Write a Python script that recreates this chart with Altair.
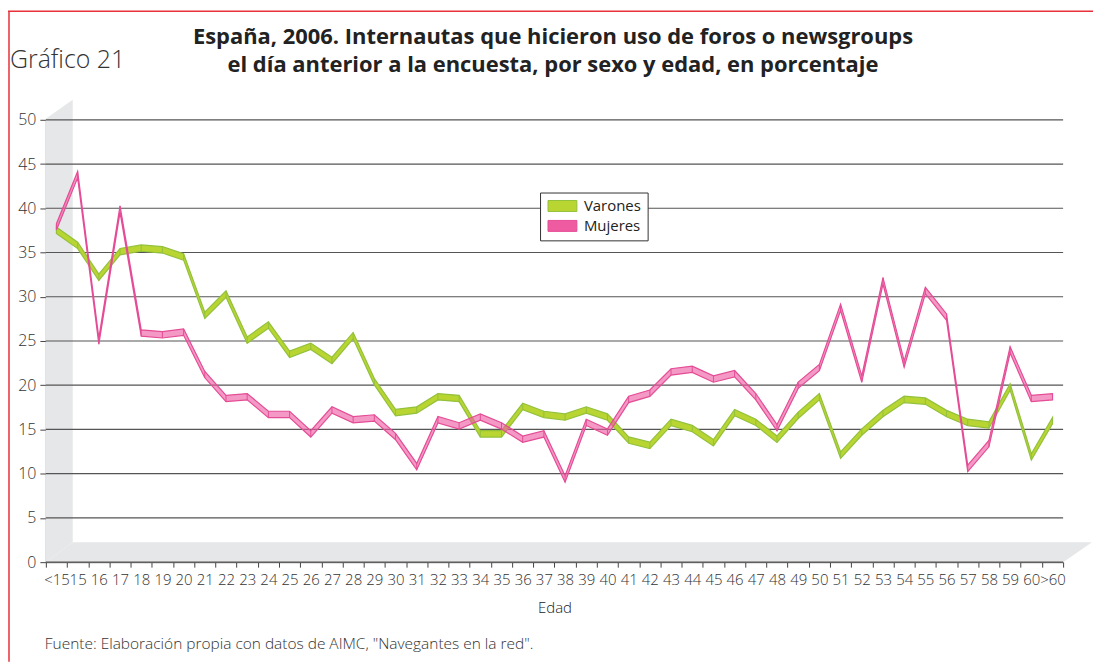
import altair as alt
import pandas as pd

edades = ["<15", "15", "16", "17", "18", "19", "20", "21", "22", "23", "24", "25",
          "26", "27", "28", "29", "30", "31", "32", "33", "34", "35", "36", "37",
          "38", "39", "40", "41", "42", "43", "44", "45", "46", "47", "48", "49",
          "50", "51", "52", "53", "54", "55", "56", "57", "58", "59", "60", ">60"]

varones = [37.5, 35.8, 32.2, 35.1, 35.5, 35.3, 34.5, 27.9, 30.3, 25.1, 26.8, 23.5,
           24.4, 22.8, 25.6, 20.4, 16.9, 17.2, 18.7, 18.5, 14.5, 14.5, 17.6, 16.7,
           16.4, 17.2, 16.4, 13.8, 13.2, 15.8, 15.1, 13.5, 16.9, 15.8, 13.9, 16.6,
           18.7, 12.1, 14.7, 16.8, 18.4, 18.2, 16.8, 15.8, 15.5, 19.8, 11.9, 16.0]

mujeres = [37.9, 43.8, 25.0, 39.9, 25.9, 25.7, 26.0, 21.2, 18.5, 18.7, 16.7, 16.7,
           14.5, 17.2, 16.1, 16.3, 14.2, 10.8, 16.1, 15.4, 16.4, 15.4, 13.9, 14.5,
           9.4, 15.8, 14.7, 18.4, 19.1, 21.5, 21.8, 20.7, 21.3, 18.7, 15.2, 20.0,
           22.0, 28.8, 20.7, 31.8, 22.4, 30.7, 27.7, 10.6, 13.4, 24.0, 18.5, 18.7]

series = ["Varones", "Mujeres"]
y_ticks = [0, 5, 10, 15, 20, 25, 30, 35, 40, 45, 50]

titulo = ["España, 2006. Internautas que hicieron uso de foros o newsgroups",
          "el día anterior a la encuesta, por sexo y edad, en porcentaje"]
grafico = "Gráfico 21"
fuente = 'Fuente: Elaboración propia con datos de AIMC, "Navegantes en la red".'

rows = []
for s, vals in zip(series, [varones, mujeres]):
    for e, v in zip(edades, vals):
        rows.append({"edad": e, "sexo": s, "valor": v})
df = pd.DataFrame(rows)

W, H = 1021, 444
FONT = "Open Sans"

x_axis = alt.Axis(title="Edad", labelAngle=0, labelFont=FONT, labelFontSize=15,
                  labelFontWeight=300, labelColor="#333", labelOverlap=False,
                  labelPadding=5, tickBand="extent", tickSize=5, tickColor="#444",
                  domainColor="#444", titleFont=FONT, titleFontSize=15,
                  titleFontWeight=300, titleColor="#222", titlePadding=14, grid=False)
y_axis = alt.Axis(title=None, values=y_ticks, labelFont=FONT, labelFontSize=16,
                  labelFontWeight=300, labelColor="#333", tickSize=6, tickColor="#444",
                  domainColor="#444", labelPadding=4, grid=False)

x_enc = alt.X("edad:N", sort=edades,
              scale=alt.Scale(type="band", paddingInner=0, paddingOuter=0),
              axis=x_axis)
y_scale = alt.Scale(domain=[0, 50], nice=False, zero=True)

one = pd.DataFrame({"k": [0]})

wall = alt.Chart(one).mark_point(
    shape="M0,444L0,-1L27,-20L27,424Z", size=4, filled=True,
    fill="#e6e7e8", strokeWidth=0, opacity=1
).encode(x=alt.value(0), y=alt.value(0))

floor = alt.Chart(one).mark_point(
    shape="M0,444L1021,444L1050,424L27,424Z", size=4, filled=True,
    fill="#e6e7e8", strokeWidth=0, opacity=1
).encode(x=alt.value(0), y=alt.value(0))

grid = alt.Chart(pd.DataFrame({"v": y_ticks})).mark_rule(
    color="#555", strokeWidth=1.2
).encode(y=alt.Y("v:Q", scale=y_scale, axis=y_axis), x=alt.value(0), x2=alt.value(W))

fill_scale = alt.Scale(domain=series, range=["#b9d532", "#ee5ba1"])
stroke_scale = alt.Scale(domain=series, range=["#93c13b", "#e44d96"])

legend = alt.Legend(title=None, orient="none", legendX=496, legendY=73,
                    strokeColor="#333", fillColor="white", padding=6,
                    symbolType="M-1,-1H4.27V1H-1Z", symbolSize=121,
                    symbolStrokeWidth=1, symbolOpacity=1,
                    labelFont=FONT, labelFontSize=15, labelColor="#222",
                    labelOffset=23, rowPadding=4)

base = alt.Chart(df).transform_calculate(
    lo="datum.valor - 0.36", hi="datum.valor + 0.36"
)

ribbon = base.mark_area(strokeWidth=1.2, interpolate="linear").encode(
    x=x_enc,
    y=alt.Y("lo:Q", scale=y_scale, axis=y_axis),
    y2="hi:Q",
    fill=alt.Fill("sexo:N", scale=fill_scale, legend=legend, sort=series),
    stroke=alt.Stroke("sexo:N", scale=stroke_scale, legend=legend, sort=series),
    fillOpacity=alt.FillOpacity("sexo:N", scale=alt.Scale(domain=series, range=[1, 0.62]), legend=None),
    order=alt.Order("sexo:N"),
)

folds = base.mark_rule(strokeWidth=1).encode(
    x=x_enc,
    y=alt.Y("lo:Q", scale=y_scale, axis=y_axis),
    y2="hi:Q",
    stroke=alt.Stroke("sexo:N", scale=stroke_scale, legend=legend, sort=series),
)

title_txt = alt.Chart(pd.DataFrame({"t": titulo, "y": [-76, -48]})).mark_text(
    font=FONT, fontSize=22, fontWeight="bold", color="#222", align="center",
    baseline="alphabetic"
).encode(text="t:N", x=alt.value(509), y=alt.Y("y:Q", scale=None))

graf_txt = alt.Chart(pd.DataFrame({"t": [grafico]})).mark_text(
    font=FONT, fontSize=25, fontWeight=300, color="#333", align="left",
    baseline="alphabetic"
).encode(text="t:N", x=alt.value(-36), y=alt.value(-52))

src_txt = alt.Chart(pd.DataFrame({"t": [fuente]})).mark_text(
    font=FONT, fontSize=15.5, fontWeight=300, color="#333", align="left",
    baseline="alphabetic"
).encode(text="t:N", x=alt.value(-1), y=alt.value(531))

border_top = alt.Chart(one).mark_rule(color="#e8303a", strokeWidth=1.5).encode(
    x=alt.value(-38), x2=alt.value(W + 30), y=alt.value(-109))
border_left = alt.Chart(one).mark_rule(color="#e8303a", strokeWidth=1.5).encode(
    x=alt.value(-37), y=alt.value(-109), y2=alt.value(H + 100))

chart = alt.layer(
    wall, floor, grid, ribbon, folds, title_txt, graf_txt, src_txt, border_top, border_left
).properties(
    width=W, height=H,
    autosize=alt.AutoSizeParams(type="none"),
    padding={"left": 38, "top": 111, "right": 30, "bottom": 100},
).configure_view(stroke=None).configure_legend(symbolOpacity=1)

chart.save("out.html", embed_options={"renderer": "svg", "actions": False})
